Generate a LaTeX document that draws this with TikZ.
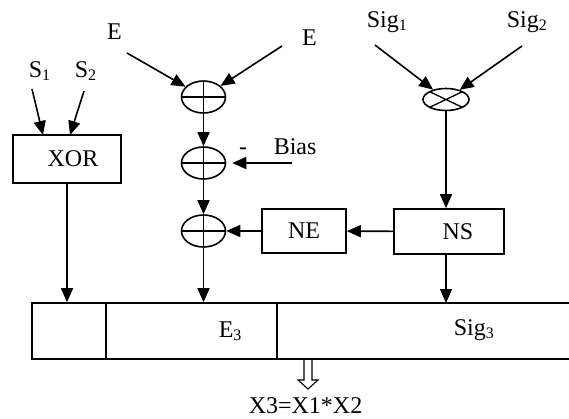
\documentclass[tikz,border=0pt]{standalone}
\usepackage{fontspec}
\setmainfont{Liberation Serif}
\usetikzlibrary{arrows.meta,shapes.geometric}
\newcommand\sbs[1]{\raisebox{-0.35ex}{\fontsize{16}{16}\selectfont #1}}
\begin{document}
\begin{tikzpicture}[x=1pt,y=-1pt,line width=1.6pt,
  lbl/.style={inner sep=0pt,font=\fontsize{24}{24}\selectfont},
  boxnode/.style={draw,rectangle,inner sep=0pt,font=\fontsize{24}{24}\selectfont},
  adder/.style={draw,ellipse,inner sep=0pt,minimum width=44pt,minimum height=32pt,
    path picture={\draw[line width=1.3pt] (path picture bounding box.north) -- (path picture bounding box.south)
      (path picture bounding box.west) -- (path picture bounding box.east);}},
  mult/.style={draw,ellipse,inner sep=0pt,minimum width=46pt,minimum height=22pt,
    path picture={\draw[line width=1.3pt] (path picture bounding box.north west) -- (path picture bounding box.south east)
      (path picture bounding box.south west) -- (path picture bounding box.north east);}},
  >={Triangle[length=14pt,width=12pt]}]
\useasboundingbox (0,0) rectangle (569,418);

% labels
\node[lbl,anchor=base west] (s1) at (28,77) {S\sbs{1}};
\node[lbl,anchor=base west] (s2) at (74,77) {S\sbs{2}};
\node[lbl,anchor=base] (el) at (114.5,39) {E};
\node[lbl,anchor=base] (er) at (309.5,45) {E};
\node[lbl,anchor=base west] (bias) at (273,154) {Bias};
\node[lbl,anchor=base] (minus) at (243,154) {-};
\node[lbl,anchor=base west] (sig1) at (366,27) {Sig\sbs{1}};
\node[lbl,anchor=base west] (sig2) at (506,27) {Sig\sbs{2}};

% boxes
\node[boxnode,minimum width=108pt,minimum height=48pt] (xor) at (67,159) {\hspace*{12pt}XOR};
\node[boxnode,minimum width=84pt,minimum height=44pt] (ne) at (304,231) {NE};
\node[boxnode,minimum width=110pt,minimum height=45pt] (ns) at (449,231.5) {\hspace*{18pt}NS};

% adders and multiplier
\node[adder] (a1) at (203.5,97) {};
\node[adder] (a2) at (203.5,163) {};
\node[adder] (a3) at (203.5,231) {};
\node[mult] (mu) at (446,99.5) {};

% register
\node[boxnode,minimum width=74pt,minimum height=56pt] (c1) at (69,331) {};
\node[boxnode,minimum width=171pt,minimum height=56pt] (c2) at (191.5,331) {};
\node[rectangle,inner sep=0pt,outer sep=0pt,minimum width=292pt,minimum height=56pt] (c3) at (423,331) {};
\draw (c3.north west) -- (c3.north east) (c3.south west) -- (c3.south east);
\node[lbl,anchor=base west] (e3) at (218,337) {E\sbs{3}};
\node[lbl,anchor=base west] (sig3) at (453,335) {Sig\sbs{3}};

% free ends
\coordinate (s1t) at (32,89);
\coordinate (s2t) at (84,91);
\coordinate (elt) at (127,53);
\coordinate (ert) at (282,46);
\coordinate (bt) at (292,163);
\coordinate (sg1t) at (375,45);
\coordinate (sg2t) at (522,46);

% connectors
\draw[->] (s1t) -- (43,135);
\draw[->] (s2t) -- (70,135);
\draw[->] (elt) -- (a1);
\draw[->] (ert) -- (a1);
\draw[->] (a1) -- (a2);
\draw[->] (a2) -- (a3);
\draw[->] (bt) -- ([xshift=6pt]a2.east);
\draw[->] (ne) -- (a3);
\draw[->] (ns) -- (ne);
\draw[->] (sg1t) -- (mu);
\draw[->] (sg2t) -- (mu);
\draw[->] (mu) -- (mu |- ns.north);
\draw[->] (xor.south) -- (xor.south |- c1.north);
\draw[->] (a3) -- (a3 |- c2.north);
\draw[->] (mu |- ns.south) -- (mu |- c3.north);

% output arrow
\draw[line width=1.1pt] (304,359.5) -- (304,380) -- (298,380) -- (308,389) -- (318,380) -- (312,380) -- (312,359.5);
\node[lbl,anchor=base west] (out) at (248,413) {X3=X1*X2};
\end{tikzpicture}
\end{document}
